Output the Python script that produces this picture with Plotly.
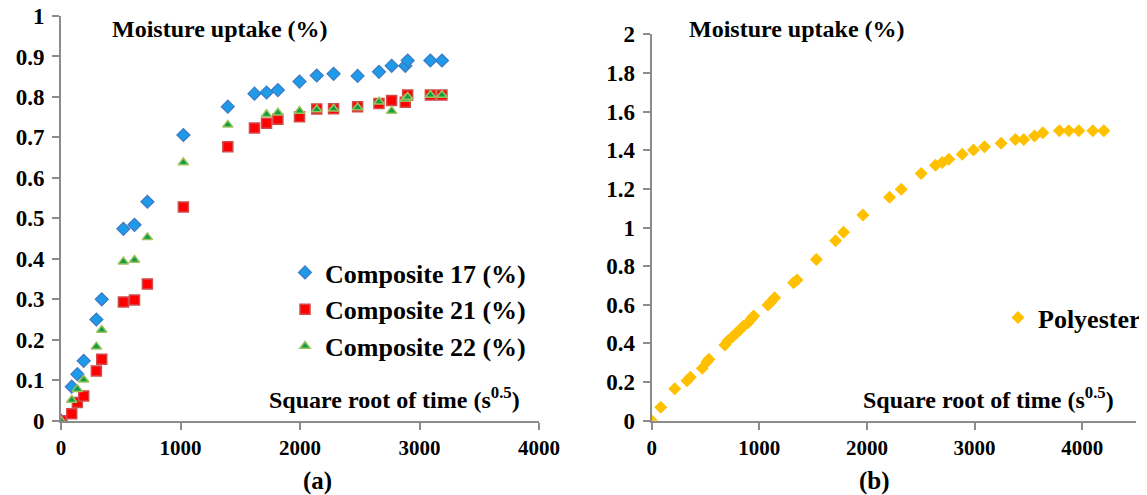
import plotly.graph_objects as go

# ---- Data (a) ----
time_a = [0, 90, 137, 190, 296, 341, 522, 615, 723, 1024, 1396, 1619, 1720, 1815,
          1996, 2140, 2281, 2482, 2661, 2767, 2881, 2901, 3091, 3188]
comp17 = [0, 0.084, 0.115, 0.148, 0.25, 0.30, 0.474, 0.484, 0.541, 0.706, 0.776, 0.808,
          0.811, 0.817, 0.838, 0.853, 0.857, 0.852, 0.862, 0.877, 0.877, 0.890, 0.890, 0.890]
comp21 = [0, 0.017, 0.045, 0.061, 0.123, 0.152, 0.293, 0.298, 0.338, 0.528, 0.677, 0.723,
          0.735, 0.745, 0.751, 0.770, 0.771, 0.776, 0.784, 0.791, 0.787, 0.805, 0.805, 0.805]
comp22 = [0, 0.051, 0.078, 0.101, 0.183, 0.224, 0.393, 0.397, 0.453, 0.638, 0.731, None,
          0.757, 0.761, 0.765, 0.769, 0.771, 0.774, 0.788, 0.765, 0.795, 0.800, 0.805, 0.805]

# ---- Data (b) ----
time_b = [0, 84, 214, 328, 359, 470, 513, 532, 680, 709, 750, 786, 817, 854, 894, 925, 947,
          1080, 1111, 1142, 1318, 1350, 1530, 1709, 1783, 1963, 2210, 2319, 2504, 2637,
          2699, 2761, 2885, 2990, 3092, 3247, 3380, 3457, 3557, 3634, 3788, 3875, 3968,
          4099, 4201]
polyester = [0, 0.069, 0.166, 0.207, 0.225, 0.271, 0.305, 0.318, 0.392, 0.414, 0.435, 0.452,
             0.469, 0.490, 0.507, 0.526, 0.542, 0.599, 0.616, 0.637, 0.714, 0.728, 0.835,
             0.932, 0.975, 1.065, 1.156, 1.198, 1.280, 1.322, 1.336, 1.353, 1.379, 1.401,
             1.418, 1.436, 1.456, 1.456, 1.474, 1.491, 1.501, 1.501, 1.501, 1.501, 1.501]

FONT = "Liberation Serif"
AXIS_COLOR = "#8c8c8c"
W, H = 1139, 487  # page body has an 8px margin


def fx(px):
    return (px - 8) / W


def fy(py):
    return 1 - (py - 8) / H


fig = go.Figure()

fig.add_trace(go.Scatter(
    x=time_a, y=comp17, mode="markers", name="<b>Composite 17 (%)</b>",
    marker=dict(symbol="diamond", size=10, color="#1e9be8",
                line=dict(color="#3f78c4", width=1.2)),
    xaxis="x", yaxis="y", legend="legend", legendgroup="a"))
fig.add_trace(go.Scatter(
    x=time_a, y=comp21, mode="markers", name="<b>Composite 21 (%)</b>",
    marker=dict(symbol="square", size=10, color="#ff0000",
                line=dict(color="#d24b4b", width=1.5)),
    xaxis="x", yaxis="y", legend="legend", legendgroup="b"))
fig.add_trace(go.Scatter(
    x=time_a, y=comp22, mode="markers", name="<b>Composite 22 (%)</b>",
    marker=dict(symbol="triangle-up", size=9, color="#0f9d48",
                line=dict(color="#9bc35a", width=1.5)),
    xaxis="x", yaxis="y", legend="legend", legendgroup="c"))
fig.add_trace(go.Scatter(
    x=time_b, y=polyester, mode="markers", name="<b>Polyester</b>",
    marker=dict(symbol="diamond", size=10, color="#ffc000",
                line=dict(color="#ffc000", width=0)),
    xaxis="x2", yaxis="y2", legend="legend2"))

axis_common = dict(
    showline=True, linecolor=AXIS_COLOR, linewidth=2,
    ticks="outside", tickcolor=AXIS_COLOR, ticklen=7, tickwidth=2,
    showgrid=False, zeroline=False, ticklabeloverflow="allow",
)
xtick_font = dict(family=FONT, size=21, color="black", weight="bold")
ytick_font = dict(family=FONT, size=23, color="black", weight="bold")

fig.update_layout(
    width=W, height=H,
    margin=dict(l=0, r=0, t=0, b=0, autoexpand=False),
    paper_bgcolor="white", plot_bgcolor="white",
    font=dict(family=FONT, color="black"),
    xaxis=dict(domain=[fx(61), fx(539)], range=[0, 4000], dtick=1000,
               anchor="y", tickfont=xtick_font, **axis_common),
    yaxis=dict(domain=[fy(420.7), fy(16)], range=[0, 1], dtick=0.1,
               anchor="x", tickfont=ytick_font, ticklabelstandoff=3, **axis_common),
    xaxis2=dict(domain=[fx(651.7), fx(1136)], range=[0, 4500],
                tickvals=[0, 1000, 2000, 3000, 4000], anchor="y2",
                tickfont=xtick_font, **axis_common),
    yaxis2=dict(domain=[fy(420.7), fy(34.3)], range=[0, 2], dtick=0.2,
                anchor="x2", tickfont=ytick_font, ticklabelstandoff=3, **axis_common),
    legend=dict(x=fx(285), y=fy(249), xanchor="left", yanchor="top",
                bgcolor="rgba(0,0,0,0)", font=dict(family=FONT, size=26, color="black"),
                itemwidth=30, tracegroupgap=0),
    legend2=dict(x=fx(998), y=fy(294), xanchor="left", yanchor="top",
                 bgcolor="rgba(0,0,0,0)", font=dict(family=FONT, size=26, color="black"),
                 itemwidth=30),
    showlegend=True,
)


def note(text, px, py, xanchor="center", size=24):
    fig.add_annotation(text=text, xref="paper", yref="paper", x=fx(px), y=fy(py),
                       xanchor=xanchor, yanchor="middle", showarrow=False,
                       font=dict(family=FONT, size=size, color="black"))


note("<b>Moisture uptake (%)</b>", 220, 29)
note("<b>Moisture uptake (%)</b>", 797, 29)
note("<b>Square root of time (s<sup>0.5</sup>)</b>", 522, 398, xanchor="right")
note("<b>Square root of time (s<sup>0.5</sup>)</b>", 1116, 398, xanchor="right")
note("<b>(a)</b>", 317, 481, size=25)
note("<b>(b)</b>", 874, 481, size=25)

fig.write_html("out.html")
